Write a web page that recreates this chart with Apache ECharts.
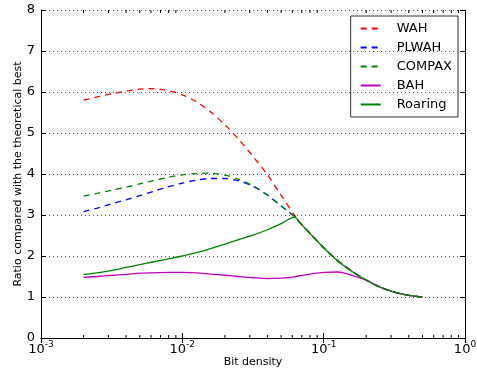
<!DOCTYPE html>
<html>
<head>
<meta charset="utf-8">
<script src="https://cdn.jsdelivr.net/npm/echarts@6/dist/echarts.min.js"></script>
<style>
  html, body { margin: 0; padding: 0; background: #fff; }
  #chart { width: 477px; height: 372px; }
</style>
</head>
<body>
<div id="chart"></div>
<script>
const density = [0.002, 0.0025, 0.0032, 0.004, 0.005, 0.0063, 0.008, 0.01, 0.0126, 0.0158, 0.02, 0.025, 0.0316, 0.04, 0.05, 0.062,
  0.07, 0.08, 0.1, 0.126, 0.158, 0.2, 0.25, 0.316, 0.4, 0.5];
const wah = [5.80, 5.88, 5.96, 6.02, 6.07, 6.08, 6.03, 5.93, 5.76, 5.52, 5.20, 4.85, 4.43, 3.98, 3.48, 3.00,
  2.77, 2.56, 2.21, 1.89, 1.64, 1.42, 1.25, 1.12, 1.04, 1.0];
const plwah = [3.08, 3.17, 3.28, 3.37, 3.47, 3.58, 3.69, 3.78, 3.85, 3.89, 3.89, 3.83, 3.70, 3.48, 3.22, 2.96,
  2.76, 2.55, 2.20, 1.88, 1.63, 1.41, 1.24, 1.12, 1.04, 1.0];
const compax = [3.46, 3.53, 3.61, 3.68, 3.76, 3.84, 3.92, 3.98, 4.01, 4.02, 3.97, 3.87, 3.71, 3.49, 3.22, 2.96,
  2.76, 2.55, 2.20, 1.88, 1.63, 1.41, 1.24, 1.12, 1.04, 1.0];
const bah = [1.48, 1.50, 1.53, 1.55, 1.58, 1.59, 1.60, 1.60, 1.59, 1.56, 1.53, 1.50, 1.47, 1.45, 1.46, 1.49,
  1.53, 1.56, 1.60, 1.61, 1.53, 1.41, 1.24, 1.12, 1.04, 1.0];
const roaring = [1.55, 1.59, 1.65, 1.72, 1.79, 1.86, 1.93, 2.00, 2.08, 2.18, 2.29, 2.40, 2.51, 2.64, 2.79, 2.95,
  2.76, 2.55, 2.20, 1.88, 1.63, 1.41, 1.24, 1.12, 1.04, 1.0];
const minorTicks = [0.002, 0.003, 0.004, 0.005, 0.006, 0.007, 0.008, 0.009,
  0.02, 0.03, 0.04, 0.05, 0.06, 0.07, 0.08, 0.09,
  0.2, 0.3, 0.4, 0.5, 0.6, 0.7, 0.8, 0.9];

const font = "DejaVu Sans";
const pairs = (ys) => density.map((x, i) => [x, ys[i]]);

function lineSeries(name, ys, color, dashed) {
  return {
    name,
    type: "line",
    data: pairs(ys),
    smooth: 0.3,
    symbol: "none",
    lineStyle: { color, width: 1.3, type: dashed ? [6, 5] : "solid" },
    itemStyle: { color }
  };
}

const xLabel = (v) => {
  const exp = Math.round(Math.log10(v));
  return "{b|10}{s|" + (exp < 0 ? "-" + Math.abs(exp) : exp) + "}";
};

const chart = echarts.init(document.getElementById("chart"));
chart.setOption({
  animation: false,
  grid: { left: 41, right: 12, top: 10, bottom: 34, outerBoundsMode: "none", containLabel: false },
  legend: {
    orient: "vertical",
    right: 19,
    top: 16,
    padding: [6, 6, 6, 9],
    itemGap: 6,
    itemWidth: 20,
    itemHeight: 14,
    borderColor: "#333",
    borderWidth: 1,
    data: ["WAH", "PLWAH", "COMPAX", "BAH", "Roaring"],
    itemStyle: { color: "rgba(0,0,0,0)", borderWidth: 0, opacity: 0 },
    textStyle: { fontFamily: font, fontSize: 13, color: "#000", padding: [0, 0, 0, 11] }
  },
  xAxis: [{
    type: "log",
    min: 0.001,
    max: 1,
    name: "Bit density",
    nameLocation: "middle",
    nameGap: 19,
    nameMoveOverlap: false,
    nameTextStyle: { fontFamily: font, fontSize: 11, color: "#000" },
    axisLine: { lineStyle: { color: "#000", width: 1 } },
    axisTick: { inside: true, length: 5, lineStyle: { color: "#000" } },
    axisLabel: {
      formatter: xLabel,
      margin: 2,
      rich: {
        b: { fontFamily: font, fontSize: 13, color: "#000", lineHeight: 16, verticalAlign: "bottom" },
        s: { fontFamily: font, fontSize: 9, color: "#000", lineHeight: 16, verticalAlign: "top" }
      }
    },
    splitLine: { show: false }
  }, {
    type: "log",
    position: "top",
    min: 0.001,
    max: 1,
    axisLine: { lineStyle: { color: "#000", width: 1 } },
    axisTick: { inside: true, length: 5, lineStyle: { color: "#000" } },
    axisLabel: { show: false },
    splitLine: { show: false }
  }],
  yAxis: [{
    type: "value",
    min: 0,
    max: 8,
    interval: 1,
    name: "Ratio compared with the theoretical best",
    nameLocation: "middle",
    nameGap: 17,
    nameMoveOverlap: false,
    nameTextStyle: { fontFamily: font, fontSize: 11, color: "#000" },
    axisLine: { show: true, lineStyle: { color: "#000", width: 1 } },
    axisTick: { show: true, inside: true, length: 5, lineStyle: { color: "#000" } },
    axisLabel: { fontFamily: font, fontSize: 13, color: "#000", margin: 6 },
    splitLine: { show: true, lineStyle: { color: "#555", type: [1, 3], width: 1 } }
  }, {
    type: "value",
    position: "right",
    min: 0,
    max: 8,
    interval: 1,
    axisLine: { show: true, lineStyle: { color: "#000", width: 1 } },
    axisTick: { show: true, inside: true, length: 5, lineStyle: { color: "#000" } },
    axisLabel: { show: false },
    splitLine: { show: false }
  }],
  series: [
    lineSeries("WAH", wah, "#ff0000", true),
    lineSeries("PLWAH", plwah, "#0000ff", true),
    lineSeries("COMPAX", compax, "#008000", true),
    lineSeries("BAH", bah, "#bf00bf", false),
    lineSeries("Roaring", roaring, "#008000", false),
    {
      type: "custom",
      silent: true,
      z: 5,
      data: minorTicks.map((v) => [v]),
      renderItem: (params, api) => {
        const x = api.value(0);
        const bottom = api.coord([x, 0]);
        const top = api.coord([x, 8]);
        const style = { stroke: "#000", lineWidth: 1 };
        return {
          type: "group",
          children: [
            { type: "line", shape: { x1: bottom[0], y1: bottom[1], x2: bottom[0], y2: bottom[1] - 3 }, style },
            { type: "line", shape: { x1: top[0], y1: top[1], x2: top[0], y2: top[1] + 3 }, style }
          ]
        };
      }
    }
  ]
});
</script>
</body>
</html>
